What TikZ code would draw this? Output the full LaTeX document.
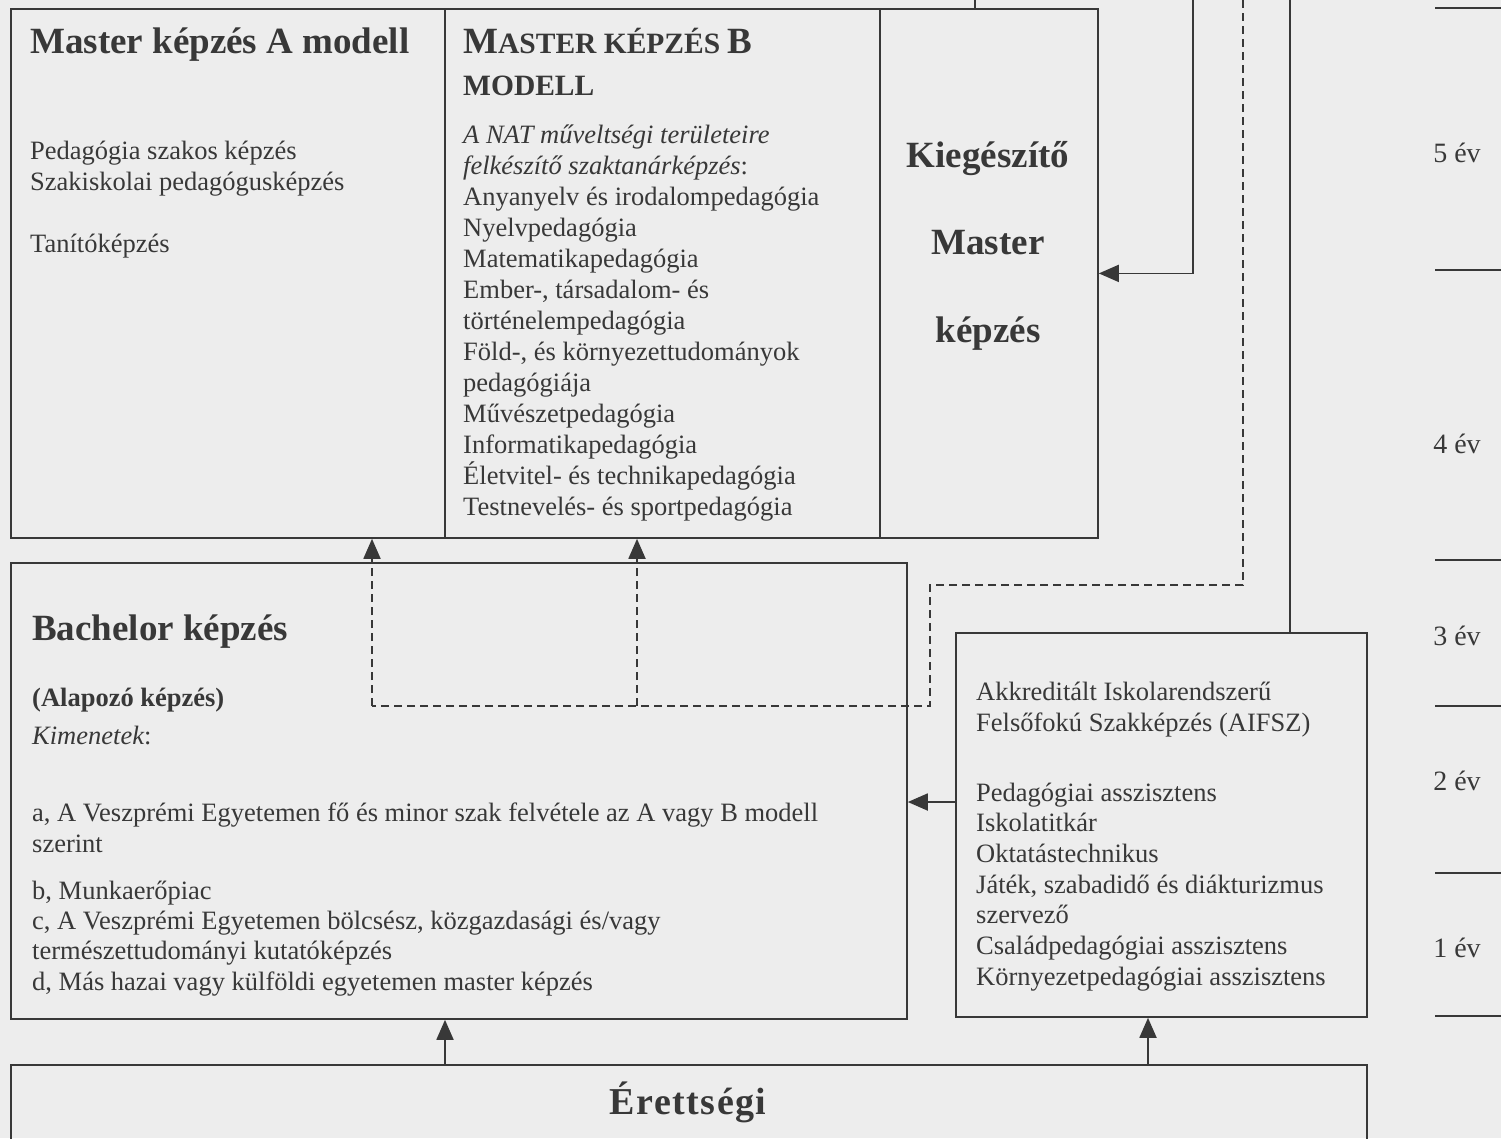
\documentclass[tikz,border=0pt]{standalone}
\usepackage{fontspec}
\setmainfont{Liberation Serif}
\usetikzlibrary{arrows.meta}
\definecolor{ink}{HTML}{383838}
\definecolor{paper}{HTML}{EDEDED}
\begin{document}
\begin{tikzpicture}[x=1pt,y=-1pt,
  box/.style={draw=ink, line width=1.8pt, rectangle, inner sep=0pt, anchor=north west},
  body/.style={anchor=base west, inner sep=0pt, text=ink, font=\fontsize{26.5}{31}\selectfont},
  head/.style={anchor=base west, inner sep=0pt, text=ink, font=\fontsize{37}{40}\selectfont\bfseries},
  year/.style={anchor=base, inner sep=0pt, text=ink, font=\fontsize{28}{30}\selectfont},
  conn/.style={draw=ink, line width=1.8pt},
  arr/.style={conn, -{Triangle[length=20pt,width=17pt]}},
  dashconn/.style={conn, dash pattern=on 8pt off 5pt},
  dasharr/.style={dashconn, -{Triangle[length=20pt,width=17pt]}},
  tick/.style={draw=ink, line width=1.8pt}
]
\fill[paper] (0,0) rectangle (1501,1138);
\useasboundingbox (0,0) rectangle (1501,1138);

% boxes
\node[box, minimum width=434pt, minimum height=529pt] (boxA) at (10,8) {};
\node[box, minimum width=435pt, minimum height=529pt] (boxB) at (444,8) {};
\node[box, minimum width=218pt, minimum height=529pt] (boxK) at (879,8) {};
\node[box, minimum width=896pt, minimum height=456pt] (bach) at (10,562) {};
\node[box, minimum width=411pt, minimum height=384pt] (aifsz) at (955,632) {};
\node[box, minimum width=1356pt, minimum height=100pt] (eret) at (10,1064) {};

% Master A
\node[head] (tA) at (30,53) {Master képzés A modell};
\node[body] (a1) at (30,159) {Pedagógia szakos képzés};
\node[body] (a2) at (30,190) {Szakiskolai pedagógusképzés};
\node[body] (a3) at (30,252) {Tanítóképzés};

% Master B
\node[anchor=base west, inner sep=0pt, text=ink, font=\bfseries] (tB1) at (463,53)
  {{\fontsize{37}{40}\selectfont M}{\fontsize{29.5}{31}\selectfont ASTER KÉPZÉS }{\fontsize{37}{40}\selectfont B}};
\node[anchor=base west, inner sep=0pt, text=ink, font=\fontsize{29.5}{31}\selectfont\bfseries] (tB2) at (463,95) {MODELL};
\node[body, font=\fontsize{26.5}{31}\selectfont\itshape] (bi1) at (463,143) {A NAT műveltségi területeire};
\node[body, font=\fontsize{26.5}{31}\selectfont\itshape] (bi2) at (463,174) {felkészítő szaktanárképzés{\upshape:}};
\foreach \t [count=\i from 0] in {{Anyanyelv és irodalompedagógia},{Nyelvpedagógia},{Matematikapedagógia},{Ember-, társadalom- és},{történelempedagógia},{Föld-, és környezettudományok},{pedagógiája},{Művészetpedagógia},{Informatikapedagógia},{Életvitel- és technikapedagógia},{Testnevelés- és sportpedagógia}}
  \node[body] (bl\i) at (463,{205+31*\i}) {\t};

% Kiegeszito
\node[head, anchor=base] (k1) at (988,167) {Kiegészítő};
\node[head, anchor=base] (k2) at (988,254) {Master};
\node[head, anchor=base] (k3) at (988,342) {képzés};

% Bachelor
\node[head] (tBa) at (32,640) {Bachelor képzés};
\node[body, font=\fontsize{26.5}{31}\selectfont\bfseries] (al) at (32,706) {(Alapozó képzés)};
\node[body] (ki) at (32,744) {\itshape Kimenetek\upshape:};
\node[body] (o1) at (32,821) {a, A Veszprémi Egyetemen fő és minor szak felvétele az A vagy B modell};
\node[body] (o2) at (32,852) {szerint};
\node[body] (o3) at (32,899) {b, Munkaerőpiac};
\node[body] (o4) at (32,929) {c, A Veszprémi Egyetemen bölcsész, közgazdasági és/vagy};
\node[body] (o5) at (32,959) {természettudományi kutatóképzés};
\node[body] (o6) at (32,990) {d, Más hazai vagy külföldi egyetemen master képzés};

% AIFSZ
\node[body] (f1) at (976,700) {Akkreditált Iskolarendszerű};
\node[body] (f2) at (976,731) {Felsőfokú Szakképzés (AIFSZ)};
\foreach \t [count=\i from 0] in {{Pedagógiai asszisztens},{Iskolatitkár},{Oktatástechnikus},{Játék, szabadidő és diákturizmus},{szervező},{Családpedagógiai asszisztens},{Környezetpedagógiai asszisztens}}
  \node[body] (g\i) at (976,{801+30.7*\i}) {\t};

% Erettsegi
\node[anchor=base, inner sep=0pt, text=ink, font=\fontsize{38}{40}\selectfont\bfseries\addfontfeatures{LetterSpace=4}] (te) at (688,1114) {Érettségi};

% years
\foreach \yy in {8,270,560,706,873,1016} \draw[tick] (1435,\yy) -- (1501,\yy);
\node[year] (y5) at (1457,162) {5 év};
\node[year] (y4) at (1457,453) {4 év};
\node[year] (y3) at (1457,645) {3 év};
\node[year] (y2) at (1457,790) {2 év};
\node[year] (y1) at (1457,957) {1 év};

% connectors
\coordinate (t1) at (975,0);
\coordinate (t2) at (1193,0);
\coordinate (t3) at (1243,0);
\coordinate (t4) at (1290,0);
\draw[conn] (t1) -- (t1 |- boxK.north);
\draw[arr] (t2) |- (boxK.east);
\draw[conn] (t4) -- (t4 |- aifsz.north);
\coordinate (d1) at (1243,585);
\coordinate (d2) at (930,585);
\coordinate (d3) at (930,706);
\coordinate (d4) at (372,706);
\coordinate (d5) at (637,706);
\draw[dashconn] (t3) -- (d1) -- (d2) -- (d3) -- (d4);
\draw[dasharr] (d4) -- (d4 |- boxA.south);
\draw[dasharr] (d5) -- (d5 |- boxB.south);
\coordinate (h1) at (955,802);
\draw[arr] (h1) -- (h1 -| bach.east);
\coordinate (e1) at (445,1064);
\coordinate (e2) at (1148,1064);
\draw[arr] (e1) -- (e1 |- bach.south);
\draw[arr] (e2) -- (e2 |- aifsz.south);
\end{tikzpicture}
\end{document}
